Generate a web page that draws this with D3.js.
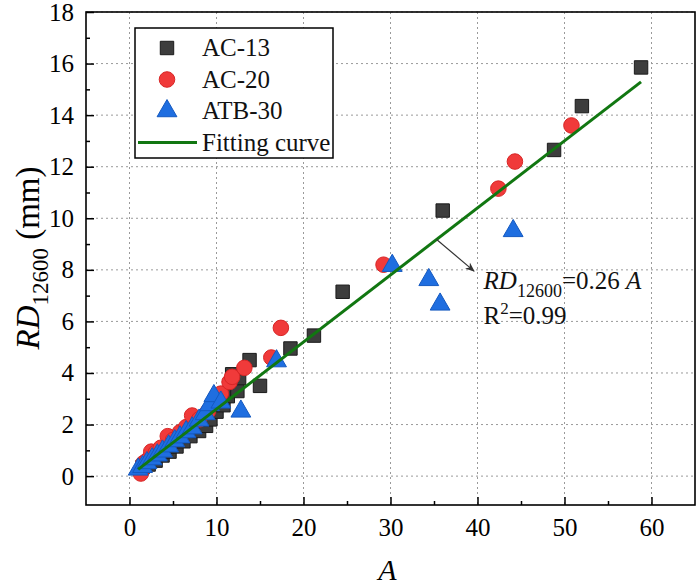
<!DOCTYPE html>
<html>
<head>
<meta charset="utf-8">
<script src="https://cdn.jsdelivr.net/npm/d3@7"></script>
<style>
  body { margin: 0; background: #fff; }
  svg text { font-family: "Liberation Serif", "Times New Roman", Tinos, "DejaVu Serif", serif; }
</style>
</head>
<body>
<svg id="chart" width="700" height="586"></svg>
<script>
// ---- data ----
const seriesNames = ["AC-13", "AC-20", "ATB-30"];
const ac13 = [
  [1.5,0.35],[2.2,0.45],[3.0,0.6],[3.8,0.8],[4.6,0.95],[5.4,1.15],[6.2,1.35],[7.0,1.55],
  [8.0,1.75],[8.8,1.95],[9.3,2.2],[10.0,2.5],[10.8,2.75],[11.3,3.1],[12.4,3.3],[11.8,3.95],
  [12.6,3.8],[13.8,4.5],[15.0,3.5],[18.5,4.95],[21.2,5.45],[24.5,7.15],[36.0,10.3],
  [48.8,12.65],[52.0,14.35],[58.8,15.85]
];
const ac20 = [
  [1.3,0.1],[1.6,0.5],[2.0,0.6],[2.5,0.95],[3.0,0.9],[3.6,1.1],[4.4,1.55],[5.0,1.4],
  [5.8,1.7],[6.5,1.9],[7.2,2.35],[8.0,2.2],[9.0,2.5],[10.0,3.1],[10.5,3.2],[11.5,3.65],
  [11.8,3.85],[13.2,4.2],[16.3,4.6],[17.4,5.75],[29.2,8.2],[42.4,11.15],[44.3,12.2],[50.8,13.6]
];
const atb30 = [
  [1.0,0.3],[1.5,0.4],[2.0,0.55],[2.6,0.7],[3.2,0.85],[3.8,1.0],[4.5,1.2],[5.2,1.4],
  [5.8,1.55],[6.5,1.75],[7.2,1.9],[8.0,2.2],[8.7,2.45],[9.2,2.8],[9.7,3.15],[10.5,2.9],
  [12.8,2.55],[16.9,4.5],[30.2,8.2],[34.4,7.65],[35.7,6.7],[44.1,9.55]
];
const fitSlope = 0.26;
const fitRange = [1.0, 58.8];
const xTicks = [0, 10, 20, 30, 40, 50, 60];
const yTicks = [0, 2, 4, 6, 8, 10, 12, 14, 16, 18];
const arrowPts = [[35.3, 9.18], [39.6, 7.95]];
const eqPos = [40.7, 7.25];
const r2Pos = [40.7, 5.9];

const FONT = "'Liberation Serif', 'Times New Roman', Tinos, 'DejaVu Serif', serif";

// ---- layout ----
const svg = d3.select("#chart");
const L = 86, R = 695, T = 12, B = 505;
const x = d3.scaleLinear().domain([-5, 65]).range([L, R]);
const y = d3.scaleLinear().domain([-1.12, 18]).range([B, T]);

// grid
const grid = svg.append("g").attr("stroke", "#9a9a9a").attr("stroke-width", 1).attr("stroke-dasharray", "2,3");
xTicks.forEach(t => grid.append("line").attr("x1", x(t)).attr("x2", x(t)).attr("y1", T).attr("y2", B));
yTicks.forEach(t => grid.append("line").attr("x1", L).attr("x2", R).attr("y1", y(t)).attr("y2", y(t)));

// axes with inward ticks
const xAxis = d3.axisBottom(x).tickValues(xTicks).tickSizeInner(-8).tickSizeOuter(0).tickPadding(13);
const xMinor = d3.axisBottom(x).tickValues(d3.range(5, 65, 10)).tickSizeInner(-4).tickSizeOuter(0).tickFormat("");
const yAxis = d3.axisLeft(y).tickValues(yTicks).tickSizeInner(-8).tickSizeOuter(0).tickPadding(12);
const yMinor = d3.axisLeft(y).tickValues(d3.range(1, 18, 2)).tickSizeInner(-4).tickSizeOuter(0).tickFormat("");

function styleAxis(g) {
  g.attr("font-family", FONT).attr("font-size", 25);
  g.select(".domain").remove();
  g.selectAll("line").attr("stroke", "#000").attr("stroke-width", 1.5);
  g.selectAll("text").attr("fill", "#000").style("font-family", FONT).style("font-size", "25px");
}
svg.append("g").attr("transform", `translate(0,${B})`).call(xAxis).call(styleAxis);
svg.append("g").attr("transform", `translate(0,${B})`).call(xMinor).call(styleAxis);
svg.append("g").attr("transform", `translate(${L},0)`).call(yAxis).call(styleAxis);
svg.append("g").attr("transform", `translate(${L},0)`).call(yMinor).call(styleAxis);

// frame
svg.append("rect").attr("x", L).attr("y", T).attr("width", R - L).attr("height", B - T)
  .attr("fill", "none").attr("stroke", "#000").attr("stroke-width", 1.6);

// markers
const colors = { sq: "#3d3d3d", sqStroke: "#1a1a1a", ci: "#f03a3a", ciStroke: "#d82525", tri: "#1f6ee0", triStroke: "#1459c0" };
const sqSym = d3.symbol().type(d3.symbolSquare).size(180);
const ciSym = d3.symbol().type(d3.symbolCircle).size(190);
const trSym = d3.symbol().type(d3.symbolTriangle).size(170);

const pts = svg.append("g");
pts.selectAll(".sq").data(ac13).join("path").attr("class", "sq")
  .attr("d", sqSym).attr("transform", d => `translate(${x(d[0])},${y(d[1])})`)
  .attr("fill", colors.sq).attr("stroke", colors.sqStroke).attr("stroke-width", 1);
pts.selectAll(".ci").data(ac20).join("path").attr("class", "ci")
  .attr("d", ciSym).attr("transform", d => `translate(${x(d[0])},${y(d[1])})`)
  .attr("fill", colors.ci).attr("stroke", colors.ciStroke).attr("stroke-width", 1);
pts.selectAll(".tr").data(atb30).join("path").attr("class", "tr")
  .attr("d", trSym).attr("transform", d => `translate(${x(d[0])},${y(d[1]) + 1})`)
  .attr("fill", colors.tri).attr("stroke", colors.triStroke).attr("stroke-width", 1);

// fitting line
const fitLine = d3.line().x(d => x(d)).y(d => y(fitSlope * d));
svg.append("path").datum(fitRange).attr("d", fitLine)
  .attr("fill", "none").attr("stroke", "#117711").attr("stroke-width", 3);

// annotation arrow
svg.append("defs").append("marker").attr("id", "ah").attr("viewBox", "0 0 10 10")
  .attr("refX", 9).attr("refY", 5).attr("markerWidth", 8).attr("markerHeight", 8).attr("orient", "auto")
  .append("path").attr("d", "M0,1 L10,5 L0,9 L3,5 Z").attr("fill", "#333");
svg.append("line").attr("x1", x(arrowPts[0][0])).attr("y1", y(arrowPts[0][1]))
  .attr("x2", x(arrowPts[1][0])).attr("y2", y(arrowPts[1][1]))
  .attr("stroke", "#333").attr("stroke-width", 1.2).attr("marker-end", "url(#ah)");

const eq = svg.append("text").attr("x", x(eqPos[0])).attr("y", y(eqPos[1]))
  .style("font-family", FONT).style("font-size", "25px").attr("fill", "#111");
eq.append("tspan").attr("font-style", "italic").text("RD");
eq.append("tspan").attr("dy", 8).style("font-size", "18px").text("12600");
eq.append("tspan").attr("dy", -8).text("=0.26 ");
eq.append("tspan").attr("font-style", "italic").text("A");

const r2 = svg.append("text").attr("x", x(r2Pos[0])).attr("y", y(r2Pos[1]))
  .style("font-family", FONT).style("font-size", "25px").attr("fill", "#111");
r2.append("tspan").text("R");
r2.append("tspan").attr("dy", -10).style("font-size", "17px").text("2");
r2.append("tspan").attr("dy", 10).text("=0.99");

// axis titles
svg.append("text").attr("x", (L + R) / 2 - 3).attr("y", 580).attr("text-anchor", "middle")
  .style("font-family", FONT).attr("font-style", "italic").style("font-size", "30px").text("A");
const yl = svg.append("text").attr("transform", "translate(39,258) rotate(-90)").attr("text-anchor", "middle")
  .style("font-family", FONT).style("font-size", "33px");
yl.append("tspan").attr("font-style", "italic").text("RD");
yl.append("tspan").attr("dy", 9).style("font-size", "23px").text("12600");
yl.append("tspan").attr("dy", -9).text(" (mm)");

// legend
const lg = svg.append("g");
lg.append("rect").attr("x", 135).attr("y", 28).attr("width", 198).attr("height", 130)
  .attr("fill", "#fff").attr("stroke", "#000").attr("stroke-width", 1.5);
const legendRows = [
  { name: seriesNames[0], sym: sqSym, fill: colors.sq, stroke: colors.sqStroke },
  { name: seriesNames[1], sym: ciSym, fill: colors.ci, stroke: colors.ciStroke },
  { name: seriesNames[2], sym: trSym, fill: colors.tri, stroke: colors.triStroke },
  { name: "Fitting curve", line: true }
];
legendRows.forEach((r, i) => {
  const cy = 48 + i * 31.5;
  if (r.line) {
    lg.append("line").attr("x1", 138).attr("x2", 197).attr("y1", cy).attr("y2", cy)
      .attr("stroke", "#117711").attr("stroke-width", 3);
  } else {
    lg.append("path").attr("d", r.sym).attr("transform", `translate(167,${cy})`)
      .attr("fill", r.fill).attr("stroke", r.stroke).attr("stroke-width", 1);
  }
  lg.append("text").attr("x", 202).attr("y", cy + 8)
    .style("font-family", FONT).style("font-size", "25px").attr("fill", "#111").text(r.name);
});
</script>
</body>
</html>
